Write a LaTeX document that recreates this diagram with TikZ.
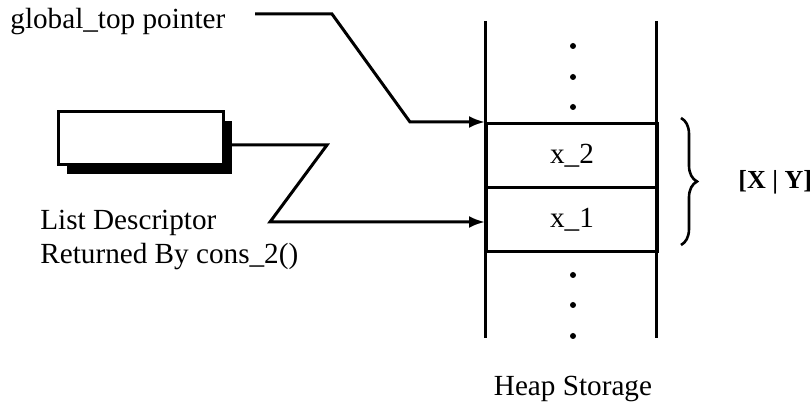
\documentclass[tikz,border=0pt]{standalone}
\usepackage{fontspec}
\setmainfont{Liberation Serif}
\usetikzlibrary{arrows.meta, positioning, shadows, decorations.pathreplacing}

\begin{document}
\begin{tikzpicture}[x=0.5pt, y=-0.5pt, font=\fontsize{14.6}{17}\selectfont]
  \tikzset{
    cell/.style={rectangle, draw=black, line width=1.5pt, inner sep=0pt,
                 minimum width=85.5pt, minimum height=32pt, anchor=north west},
    lbl/.style={inner sep=0pt, anchor=base west},
    desc/.style={rectangle, draw=black, fill=white, line width=1.5pt,
                 minimum width=82.5pt, minimum height=26.5pt,
                 drop shadow={shadow xshift=4.5pt, shadow yshift=-4.5pt,
                              fill=black, opacity=1}},
    wire/.style={line width=1.5pt},
    arr/.style={wire, -{Latex[length=8pt, width=6pt]}},
    hdot/.style={circle, fill=black, inner sep=0pt, minimum size=3pt}
  }
  \useasboundingbox (0,0) rectangle (811,416);
  % Heap cells
  \node[cell] (x2) at (485,122) {x\_2};
  \node[cell] (x1) at (485,186) {x\_1};
  \coordinate (hTL) at (485,21);  \coordinate (hBL) at (485,338);
  \coordinate (hTR) at (656,21);  \coordinate (hBR) at (656,338);
  \draw[wire] (hTL) -- (hBL);
  \draw[wire] (hTR) -- (hBR);
  \foreach \y in {46,77,107,275,305,336}
    \node[hdot] at (573,\y) {};
  % Labels
  \node[lbl] (gtp) at (10,29)  {global\_top pointer};
  \node[lbl] (ld)  at (40,230) {List Descriptor};
  \node[lbl] (rb)  at (40,264) {Returned By cons\_2()};
  \node[anchor=base, inner sep=0pt] (hs) at (573,396) {Heap Storage};
  \node[lbl, font=\fontsize{13}{16}\selectfont\bfseries] (xy) at (738,189) {[X | Y]};
  % List descriptor
  \node[desc] (dbox) at (140.5,138.5) {};
  % Pointers
  \coordinate (g0) at (255,14);
  \coordinate (g1) at (332,14);
  \coordinate (g2) at (410,122);
  \draw[arr] (g0) -- (g1) -- (g2) -- (x2.north west);
  \coordinate (d1) at (327,145);
  \coordinate (d2) at (270,222);
  \draw[arr] (dbox.east |- d1) -- (d1) -- (d2) -- (x1.west |- d2);
  % Brace
  \draw[decorate, decoration={brace, amplitude=8pt}, line width=1.3pt]
    (681,118) -- (681,245);
\end{tikzpicture}
\end{document}
